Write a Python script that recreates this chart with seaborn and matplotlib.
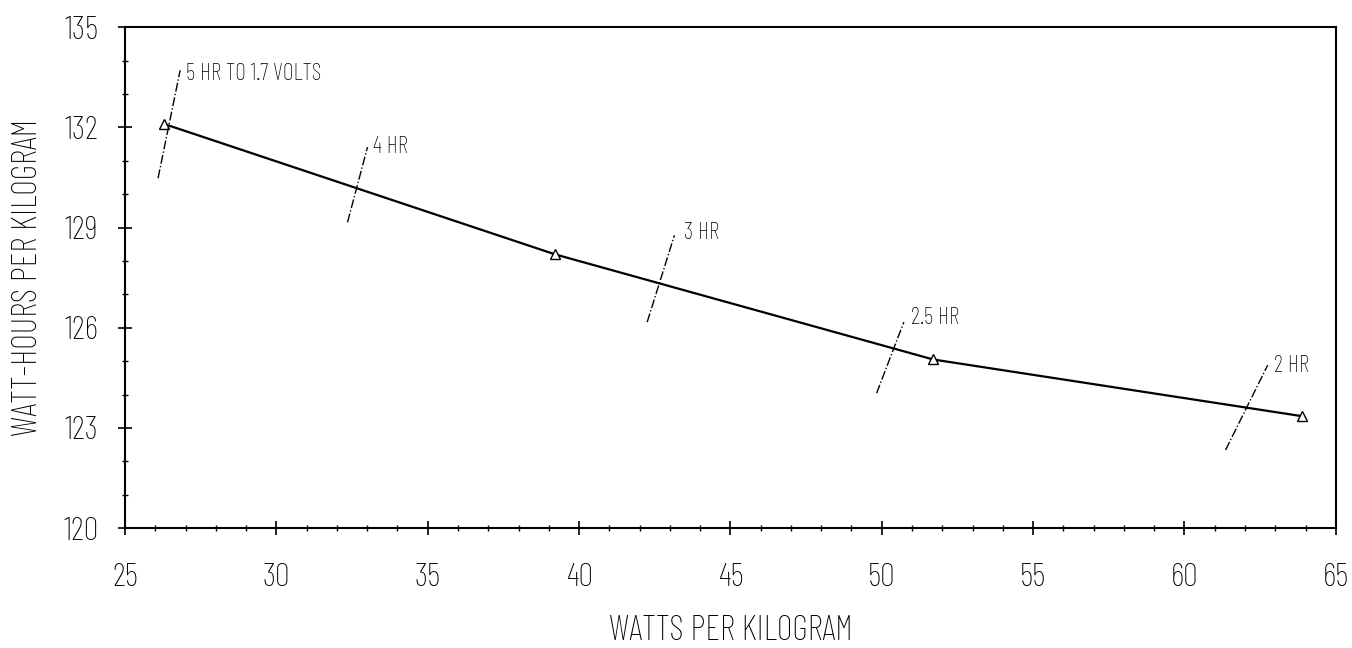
import matplotlib
matplotlib.use("Agg")
import matplotlib.pyplot as plt
from matplotlib.ticker import MultipleLocator
import pandas as pd
import seaborn as sns

# curve points
watts_per_kg = [26.3, 39.2, 51.7, 63.9]
wh_per_kg = [132.1, 128.2, 125.05, 123.35]

# discharge-rate markers: slanted dash-dot lines and their labels
rate_labels = ["5 HR TO 1.7 VOLTS", "4 HR", "3 HR", "2.5 HR", "2 HR"]
rate_x0 = [26.09, 32.35, 42.25, 49.83, 61.36]
rate_y0 = [130.48, 129.16, 126.17, 124.04, 122.34]
rate_x1 = [26.82, 33.01, 43.15, 50.73, 62.75]
rate_y1 = [133.71, 131.41, 128.77, 126.17, 124.88]
label_x = [27.0, 33.2, 43.45, 50.95, 62.95]
label_y = [133.6, 131.4, 128.85, 126.3, 124.85]

x_ticks = [25, 30, 35, 40, 45, 50, 55, 60, 65]
y_ticks = [120, 123, 126, 129, 132, 135]

sns.set_style("ticks")
plt.rcParams["font.family"] = ["Barlow Condensed", "Roboto Condensed", "DejaVu Sans"]
plt.rcParams["font.weight"] = "light"
plt.rcParams["text.color"] = "black"
plt.rcParams["axes.labelcolor"] = "black"
plt.rcParams["axes.labelweight"] = "light"
plt.rcParams["xtick.color"] = "black"
plt.rcParams["ytick.color"] = "black"

df = pd.DataFrame({"watts": watts_per_kg, "wh": wh_per_kg})

fig = plt.figure(figsize=(13.52, 6.48), dpi=100)
ax = fig.add_axes([0.0925, 0.185, 0.8955, 0.773])

sns.lineplot(data=df, x="watts", y="wh", ax=ax, color="black", linewidth=1.6,
             marker="^", markersize=7, markerfacecolor="white",
             markeredgecolor="black", markeredgewidth=1.0)

for lab, x0, y0, x1, y1, tx, ty in zip(rate_labels, rate_x0, rate_y0,
                                       rate_x1, rate_y1, label_x, label_y):
    ax.plot([x0, x1], [y0, y1], color="black", linestyle="-.", linewidth=1.0)
    ax.text(tx, ty, lab, fontsize=17, ha="left", va="center", color="black")

ax.set_xlim(25, 65)
ax.set_ylim(120, 135)
ax.set_xticks(x_ticks)
ax.set_yticks(y_ticks)
ax.xaxis.set_minor_locator(MultipleLocator(1))
ax.yaxis.set_minor_locator(MultipleLocator(1))
ax.tick_params(axis="both", which="major", direction="inout", length=10,
               width=1.2, labelsize=24)
ax.tick_params(axis="x", which="major", pad=20)
ax.tick_params(axis="y", which="major", pad=14)
ax.tick_params(axis="both", which="minor", direction="inout", length=4,
               width=1.0)

for sp in ax.spines.values():
    sp.set_visible(True)
    sp.set_linewidth(1.5)
    sp.set_color("black")

ax.set_xlabel("WATTS PER KILOGRAM", fontsize=25, labelpad=16)
ax.set_ylabel("WATT-HOURS PER KILOGRAM", fontsize=25, labelpad=14)

fig.savefig("out.png", dpi=100)
